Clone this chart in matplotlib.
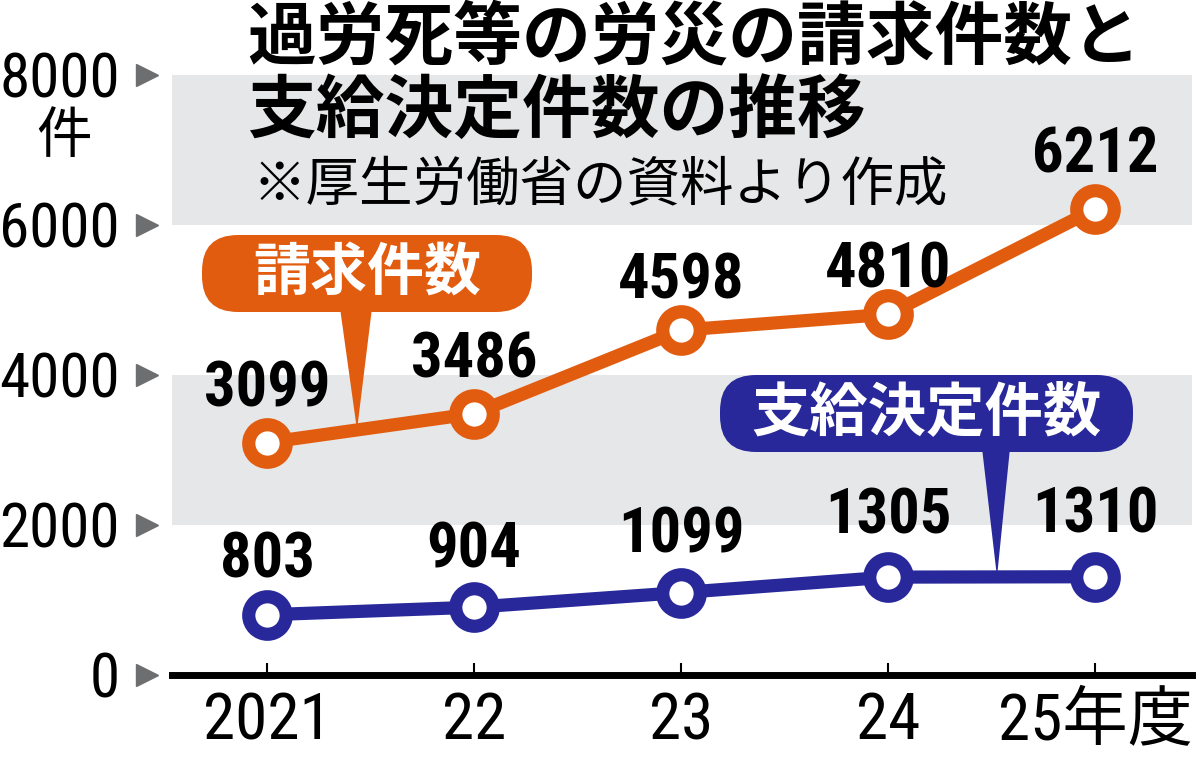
import matplotlib
matplotlib.use('Agg')
import matplotlib.pyplot as plt
from matplotlib import font_manager as fm
from matplotlib.patches import FancyBboxPatch, Polygon
from matplotlib.transforms import IdentityTransform, blended_transform_factory
import numpy as np

# ---- data ----
years = ["2021", "22", "23", "24", "25年度"]
claims = [3099, 3486, 4598, 4810, 6212]
approved = [803, 904, 1099, 1305, 1310]
yticks = [0, 2000, 4000, 6000, 8000]
ytick_labels = ["0", "2000", "4000", "6000", "8000"]
title_lines = ["過労死等の労災の請求件数と", "支給決定件数の推移"]
source = "※厚生労働省の資料より作成"
claims_name = "請求件数"
approved_name = "支給決定件数"
unit = "件"

# ---- style ----
ORANGE = '#E25C10'
BLUE = '#28289A'
BAND = '#E6E7E8'
TRI = '#6D6E70'
claims_off_px = [36, 36, 32, 27, 37]
approved_off_px = [37, 40, 40, 44, 44]

names = {f.name for f in fm.fontManager.ttflist}
def pick(*cands):
    for c in cands:
        if c in names:
            return c
    return 'DejaVu Sans'
NUM = pick('Liberation Sans Narrow', 'Roboto Condensed', 'Liberation Sans', 'Roboto')
CJK = 'Noto Sans CJK JP'
PT = 0.72  # points per pixel at 100 dpi

W, H = 1200, 761
fig = plt.figure(figsize=(W / 100, H / 100), dpi=100)
ax = fig.add_axes([172 / W, 1 - 675 / H, 1020 / W, 600 / H])
x = np.arange(len(years))
ax.set_xlim(-95 / 207, len(years) - 1 + 97 / 207)
ax.set_ylim(yticks[0], yticks[-1])

for lo, hi in [(yticks[1], yticks[2]), (yticks[3], yticks[4])]:
    ax.axhspan(lo, hi, color=BAND, lw=0, zorder=0)

for vals, col, offs in [(claims, ORANGE, claims_off_px), (approved, BLUE, approved_off_px)]:
    ax.plot(x, vals, color=col, lw=9.5, marker='o', ms=27, mfc='white',
            mec=col, mew=9.5, zorder=3, clip_on=False, solid_capstyle='butt')
    for xi, v, o in zip(x, vals, offs):
        ax.annotate(str(v), (xi, v), xytext=(0, o * PT), textcoords='offset points',
                    ha='center', va='baseline', fontsize=45, fontweight='bold',
                    family=NUM, zorder=5)

# axes styling
for s in ['left', 'top', 'right']:
    ax.spines[s].set_visible(False)
ax.spines['bottom'].set_linewidth(5)
ax.spines['bottom'].set_color('black')
ax.set_xticks(x, years)
for lab in ax.get_xticklabels():
    lab.set_family([NUM, CJK])
    lab.set_fontsize(47)
ax.tick_params(axis='x', direction='in', length=9, width=1.5, color='black', pad=11)
ax.set_yticks(yticks, ytick_labels)
for lab in ax.get_yticklabels():
    lab.set_family(NUM)
    lab.set_fontsize(44)
ax.tick_params(axis='y', length=0, pad=(172 - 120) * PT)
tri_tr = blended_transform_factory(ax.transAxes, ax.transData)
ax.plot([-25 / 1020] * len(yticks), yticks, transform=tri_tr, marker='>', ls='none',
        color=TRI, ms=16, clip_on=False)

# unit label
fig.text(64 / W, 1 - 137 / H, unit, ha='center', va='center', fontsize=40, family=CJK)

# titles
fig.text(247 / W, 1 - 38 / H, title_lines[0], ha='left', va='center', fontsize=49.5,
         fontweight='bold', family=CJK)
fig.text(247 / W, 1 - 112 / H, title_lines[1], ha='left', va='center', fontsize=49.5,
         fontweight='bold', family=CJK)
fig.text(252 / W, 1 - 186 / H, source, ha='left', va='center', fontsize=38.5, family=CJK)

# callouts (pixel layout)
def callout(x0, x1, y0, y1, base0, base1, tip_data, text, col, fs):
    idt = IdentityTransform()
    box = FancyBboxPatch((x0, H - y1), x1 - x0, y1 - y0,
                         boxstyle='round,pad=0,rounding_size=36',
                         transform=idt, fc=col, ec='none', zorder=6)
    fig.add_artist(box)
    tip = ax.transData.transform(tip_data)
    poly = Polygon([(base0, H - y1 + 4), (base1, H - y1 + 4), tuple(tip)],
                   closed=True, transform=idt, fc=col, ec='none', zorder=6)
    fig.add_artist(poly)
    fig.text((x0 + x1) / 2 / W, 1 - (y0 + y1) / 2 / H, text, ha='center', va='center',
             fontsize=fs, fontweight='bold', color='white', family=CJK, zorder=7)

tx1 = (357 - 267) / 207
callout(202, 532, 235, 312, 340, 372,
        (tx1, np.interp(tx1, x, claims)), claims_name, ORANGE, 41)
tx2 = (997 - 267) / 207
callout(720, 1133, 375, 452, 982, 1010,
        (tx2, np.interp(tx2, x, approved)), approved_name, BLUE, 42)

fig.savefig('out.png', dpi=100)
